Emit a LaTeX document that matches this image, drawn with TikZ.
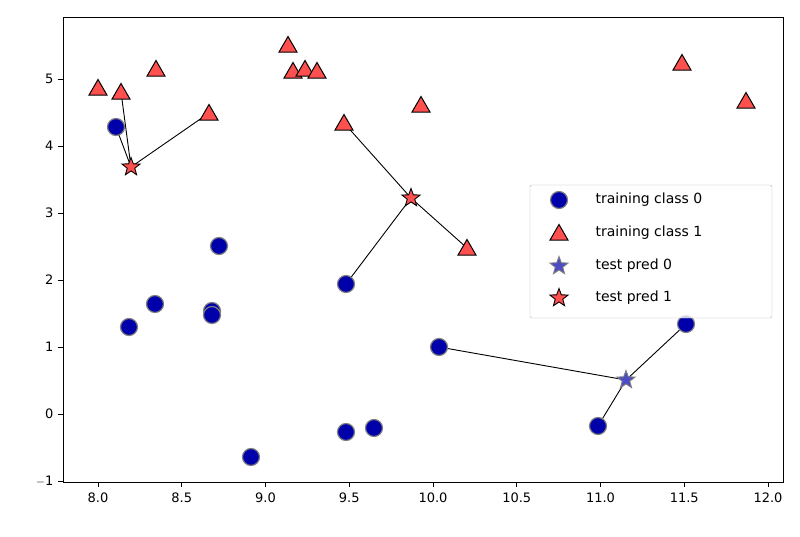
\documentclass[tikz,border=0pt]{standalone}
\usepackage{fontspec}
\setmainfont{DejaVu Sans}
\usetikzlibrary{shapes.geometric}
\definecolor{cblue}{HTML}{0000AA}
\definecolor{cred}{HTML}{FF5050}
\tikzset{
 c0/.style={circle,fill=cblue,draw=gray,line width=1.2pt,minimum size=17pt,inner sep=0pt},
 c1/.style={regular polygon,regular polygon sides=3,fill=cred,draw=black,line width=1pt,minimum size=21pt,inner sep=0pt},
 s1/.style={star,star points=5,star point ratio=2.4,fill=cred,draw=black,line width=0.9pt,minimum size=19pt,inner sep=0pt},
 s0/.style={star,star points=5,star point ratio=2.4,fill=cblue!70!white,draw=gray,line width=0.9pt,minimum size=19pt,inner sep=0pt},
 nb/.style={black,line width=0.9pt},
 tl/.style={font=\fontsize{13}{15}\selectfont},
 lg/.style={font=\fontsize{14}{16}\selectfont,anchor=west}
}
\begin{document}
\begin{tikzpicture}[x=1pt,y=-1pt]
\useasboundingbox (0,0) rectangle (800,537);
% coordinates
\foreach \n/\x/\y in {a1/116/127,a2/129/327,a3/155/304,a4/212/311,a5/212/315,a6/219/246,a7/251/457,a8/346/284,a9/346/432,a10/374/428,a11/439/347,a12/598/426,a13/686/324}{\coordinate (\n) at (\x,\y);}
\foreach \n/\x/\y in {b1/98/88,b2/121/92,b3/156/69,b4/209/113,b5/288/45,b6/293/71,b7/305/69,b8/317/71,b9/344/123,b10/421/105,b11/467/248,b12/682/63,b13/746/101}{\coordinate (\n) at (\x,\y);}
\coordinate (t1) at (131,167);
\coordinate (t2) at (411,198);
\coordinate (t3) at (626,380);
% axes
\draw[line width=0.8pt] (63,17) rectangle (783,482);
\foreach \v [count=\k from 0] in {8.0,8.5,9.0,9.5,10.0,10.5,11.0,11.5,12.0}{
 \draw[line width=0.8pt] ({98+\k*83.75},482) -- ++(0,5);
 \node[tl,anchor=north] at ({98+\k*83.75},489) {\v};}
\foreach \v [count=\k from 0] in {$-$1,0,1,2,3,4,5}{
 \draw[line width=0.8pt] (63,{481-\k*67}) -- ++(-5,0);
 \node[tl,anchor=east] at (57,{481-\k*67}) {\v};}
% neighbor lines
\foreach \p in {a1,b2,b4}{\draw[nb] (t1) -- (\p);}
\foreach \p in {b9,b11,a8}{\draw[nb] (t2) -- (\p);}
\foreach \p in {a11,a12,a13}{\draw[nb] (t3) -- (\p);}
% markers
\foreach \n in {a1,a2,a3,a4,a5,a6,a7,a8,a9,a10,a11,a12,a13}{\node[c0] (m\n) at (\n) {};}
\foreach \n in {b1,b2,b3,b4,b5,b6,b7,b8,b9,b10,b11,b12,b13}{\node[c1,yshift=-2pt] (m\n) at (\n) {};}
\node[s1] (mt1) at (t1) {};
\node[s1] (mt2) at (t2) {};
\node[s0] (mt3) at (t3) {};
% legend
\draw[gray!60,fill=white,fill opacity=0.8,rounded corners=2pt] (530,185) rectangle (772,318);
\node[c0] (l0) at (559,200) {}; \node[lg] (lt0) at (592,200) {training class 0};
\node[c1,yshift=-2pt] (l1) at (559,233) {}; \node[lg] (lt1) at (592,233) {training class 1};
\node[s0] (l2) at (559,266) {}; \node[lg] (lt2) at (592,266) {test pred 0};
\node[s1] (l3) at (559,298) {}; \node[lg] (lt3) at (592,298) {test pred 1};
\end{tikzpicture}
\end{document}
